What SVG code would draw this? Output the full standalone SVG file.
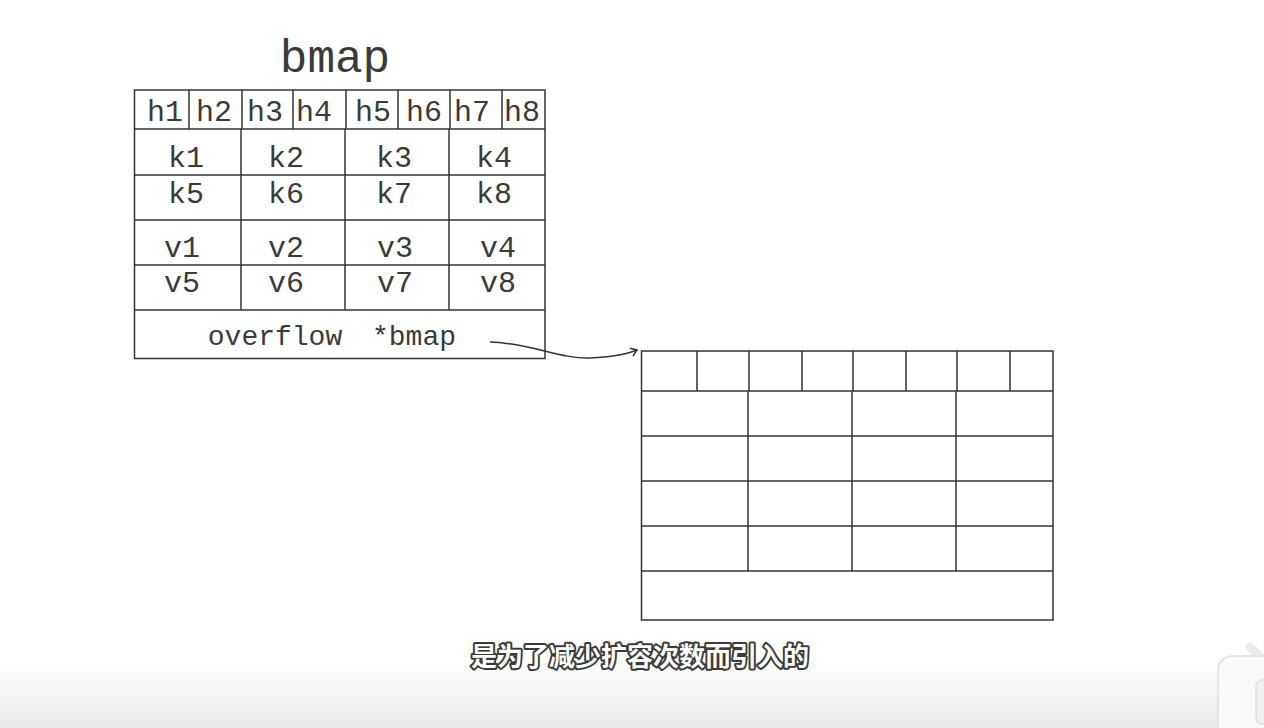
<svg xmlns="http://www.w3.org/2000/svg" width="1264" height="728" viewBox="0 0 1264 728">
<style>
.ln{stroke:#333;stroke-width:1.5;fill:none}
.bx{stroke:#333;stroke-width:1.5;fill:#fff}
.t{font-family:"Liberation Mono","DejaVu Sans Mono",monospace;fill:#3a3a3a;text-anchor:middle}
.s{font-size:30px}
.sub{font-family:"Noto Sans CJK SC","Noto Sans",sans-serif;font-weight:700;font-size:26px;fill:#fff;stroke:#3a3a3a;stroke-width:4;stroke-linejoin:round;paint-order:stroke;text-anchor:middle}
</style>
<defs>
<linearGradient id="bg" x1="0" y1="0" x2="0" y2="1">
<stop offset="0" stop-color="#fff"/>
<stop offset="1" stop-color="#eaeaea"/>
</linearGradient>
<marker id="arr" markerWidth="12" markerHeight="12" refX="9" refY="6" orient="auto" markerUnits="userSpaceOnUse">
<path d="M3,1.5 L9,6 L3,10" fill="none" stroke="#333" stroke-width="1.5"/>
</marker>
</defs>
<rect width="1264" height="728" fill="#fff"/>
<rect x="0" y="660" width="1264" height="68" fill="url(#bg)"/>

<g id="bmap">
<text class="t" x="335" y="72" font-size="46">bmap</text>
<rect class="bx" x="134.5" y="90" width="410.5" height="268.5"/>
<path class="ln" d="M134.5,129H545M134.5,175H545M134.5,220H545M134.5,265H545M134.5,310H545"/>
<path class="ln" d="M189,90V129M242,90V129M293,90V129M346,90V129M398,90V129M450,90V129M502,90V129"/>
<path class="ln" d="M241,129V310M345,129V310M449,129V310"/>
<g class="t s">
<text x="165" y="121">h1</text><text x="214" y="121">h2</text><text x="265" y="121">h3</text><text x="314" y="121">h4</text>
<text x="373" y="121">h5</text><text x="424" y="121">h6</text><text x="472" y="121">h7</text><text x="522" y="121">h8</text>
<text x="186" y="167">k1</text><text x="286" y="167">k2</text><text x="394" y="167">k3</text><text x="494" y="167">k4</text>
<text x="186" y="203">k5</text><text x="286" y="203">k6</text><text x="394" y="203">k7</text><text x="494" y="203">k8</text>
<text x="182" y="257">v1</text><text x="286" y="257">v2</text><text x="395" y="257">v3</text><text x="498" y="257">v4</text>
<text x="182" y="292">v5</text><text x="286" y="292">v6</text><text x="395" y="292">v7</text><text x="498" y="292">v8</text>
</g>
<text class="t" x="275" y="345" font-size="28">overflow</text>
<text class="t" x="414" y="345" font-size="28">*bmap</text>
</g>

<g id="overflow-bmap">
<rect class="bx" x="641.5" y="351" width="411.5" height="269"/>
<path class="ln" d="M641.5,391H1053M641.5,436H1053M641.5,481H1053M641.5,526H1053M641.5,571H1053"/>
<path class="ln" d="M697,351V391M749,351V391M802,351V391M853,351V391M906,351V391M957,351V391M1010,351V391"/>
<path class="ln" d="M748,391V571M852,391V571M956,391V571"/>
</g>

<g id="connectors">
<path class="ln" d="M490,342 C530,343 560,359 590,358 C612,357 625,355 637,350" marker-end="url(#arr)"/>
</g>

<g id="subtitle">
<text class="sub" x="640" y="666">是为了减少扩容次数而引入的</text>
</g>

<g id="corner">
<path d="M1250,647 L1262,658" stroke="#ececec" stroke-width="9" stroke-linecap="round"/>
<rect x="1218" y="656" width="60" height="84" rx="14" fill="#f9f9f9" stroke="#e0e0e0" stroke-width="1.5"/>
<rect x="1256" y="680" width="20" height="44" rx="5" fill="#f0f0f0" stroke="#d5d5d5"/>
</g>
</svg>
